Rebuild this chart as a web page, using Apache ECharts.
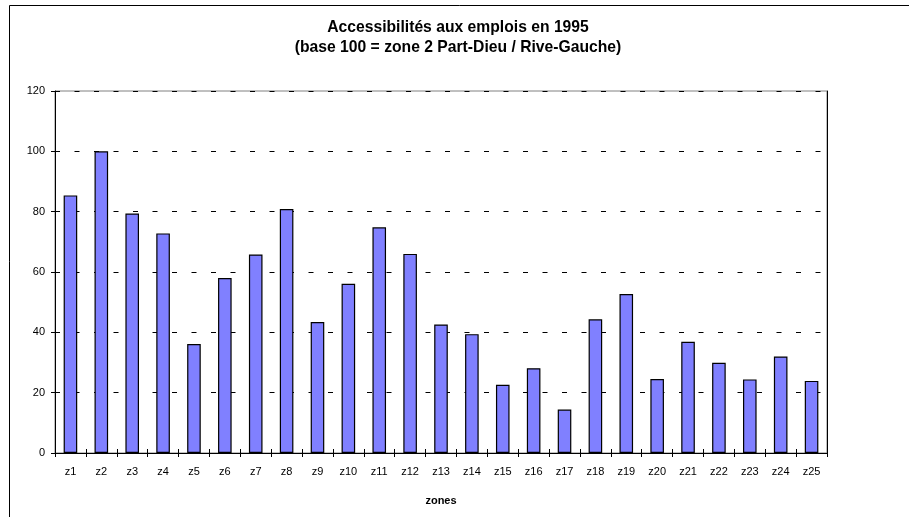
<!DOCTYPE html>
<html><head><meta charset="utf-8">
<script src="https://cdn.jsdelivr.net/npm/echarts@6/dist/echarts.min.js"></script>
<style>html,body{margin:0;padding:0;background:#fff}#c{width:909px;height:517px}</style>
</head><body><div id="c"></div>
<script>
const categories = ['z1','z2','z3','z4','z5','z6','z7','z8','z9','z10','z11','z12','z13','z14','z15','z16','z17','z18','z19','z20','z21','z22','z23','z24','z25'];
const values = [85.4, 100, 79.4, 72.8, 36.1, 58.0, 65.8, 80.9, 43.4, 56.1, 74.8, 66.0, 42.6, 39.4, 22.6, 28.1, 14.4, 44.3, 52.7, 24.5, 36.9, 29.9, 24.4, 32.0, 23.9];
const titleLines = ['Accessibilités aux emplois en 1995', '(base 100 = zone 2 Part-Dieu / Rive-Gauche)'];
const xName = 'zones';
const yMin = 0, yMax = 120, yStep = 20;

const font = 'Liberation Sans, Arial, sans-serif';
const chart = echarts.init(document.getElementById('c'), null, {renderer: 'canvas'});
const gridPos = {left: 55, right: 82, top: 91, bottom: 64};
chart.setOption({
  animation: false,
  backgroundColor: '#fff',
  title: {
    text: titleLines.join('\n'),
    left: 453, top: 13, textAlign: 'center',
    textStyle: {fontFamily: font, fontSize: 15.7, fontWeight: 'bold', color: '#000', lineHeight: 20}
  },
  graphic: [{
    type: 'rect', shape: {x: 9.5, y: 5.5, width: 1000, height: 1000},
    style: {fill: 'none', stroke: '#000', lineWidth: 1}, silent: true, z: 100
  }],
  grid: Object.assign({show: true, borderColor: '#808080', borderWidth: 1, backgroundColor: '#fff'}, gridPos),
  xAxis: [{
    type: 'category', data: categories, boundaryGap: true,
    name: xName, nameLocation: 'middle', nameGap: 42,
    nameTextStyle: {fontFamily: font, fontSize: 11, fontWeight: 'bold', color: '#000'},
    axisLine: {show: true, lineStyle: {color: '#000', width: 1}},
    axisTick: {show: true, length: 4, alignWithLabel: false, lineStyle: {color: '#000'}},
    axisLabel: {margin: 13.5, fontFamily: font, fontSize: 11, color: '#000', interval: 0},
    splitLine: {show: false}
  }, {
    type: 'category', data: categories, boundaryGap: true, position: 'bottom',
    axisLine: {show: false},
    axisTick: {show: true, inside: true, length: 4, lineStyle: {color: '#000'}},
    axisLabel: {show: false}, splitLine: {show: false}
  }],
  yAxis: [{
    type: 'value', min: yMin, max: yMax, interval: yStep,
    axisLine: {show: true, lineStyle: {color: '#000', width: 1}},
    axisTick: {show: true, length: 4, lineStyle: {color: '#000'}},
    axisLabel: {margin: 10, fontFamily: font, fontSize: 11, color: '#000'},
    splitLine: {show: true, lineStyle: {color: '#000', width: 1, type: [5, 14.5]}}
  }, {
    type: 'value', min: yMin, max: yMax, interval: yStep, position: 'left',
    axisLine: {show: false},
    axisTick: {show: true, inside: true, length: 4, lineStyle: {color: '#000'}},
    axisLabel: {show: false}, splitLine: {show: false}
  }, {
    type: 'value', min: yMin, max: yMax, interval: yStep, position: 'right',
    axisLine: {show: true, lineStyle: {color: '#000', width: 1}},
    axisTick: {show: false}, axisLabel: {show: false}, splitLine: {show: false}
  }],
  series: [{
    type: 'bar', data: values, xAxisIndex: 0, yAxisIndex: 0,
    barWidth: '44%',
    itemStyle: {color: '#8080FF', borderColor: '#000', borderWidth: 1.2}
  }]
});
</script></body></html>
